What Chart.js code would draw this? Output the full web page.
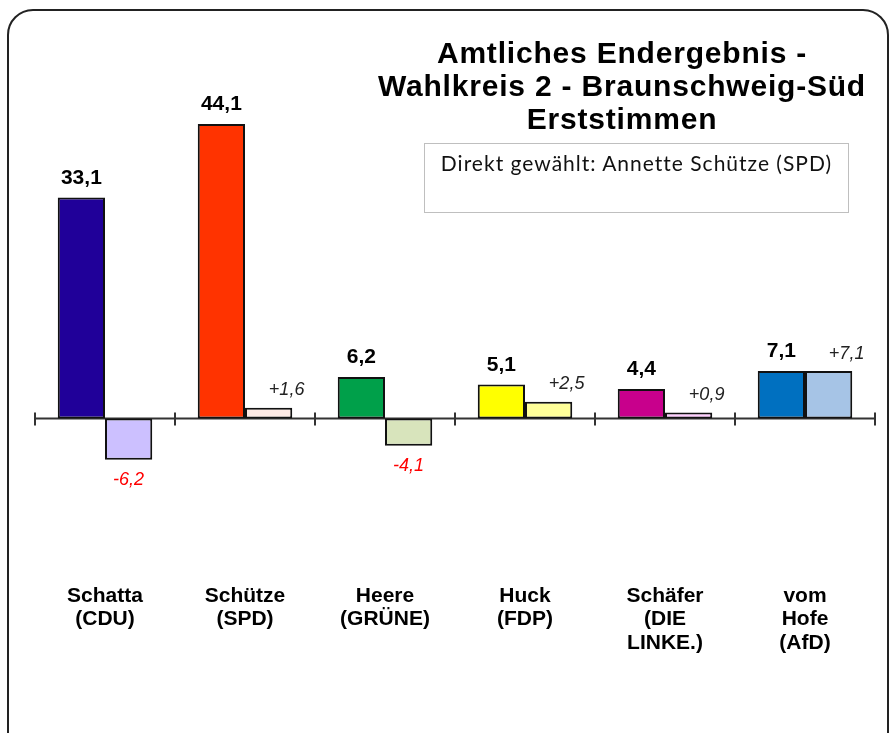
<!DOCTYPE html>
<html lang="de">
<head>
<meta charset="utf-8">
<title>Amtliches Endergebnis - Wahlkreis 2 - Braunschweig-Süd</title>
<script src="https://cdn.jsdelivr.net/npm/chart.js@4.4.1/dist/chart.umd.min.js"></script>
<style>
  html, body { margin: 0; padding: 0; background: #fff; overflow: hidden; }
  #wrap { position: relative; width: 890px; height: 733px; overflow: hidden; }
  #frame {
    position: absolute; left: 7px; top: 9px; width: 882px; height: 760px;
    border: 2px solid #222; border-radius: 26px; box-sizing: border-box;
  }
  #chart { position: absolute; left: 0; top: 0; }
  #title {
    position: absolute; left: 362px; top: 36px; width: 520px;
    font: bold 30px "Liberation Sans", Arial, sans-serif; line-height: 33px;
    letter-spacing: 0.8px; text-align: center; color: #000;
  }
  #note {
    position: absolute; left: 424px; top: 143px; width: 425px; height: 70px;
    border: 1.5px solid #bfbfbf; box-sizing: border-box;
    font: 21px Lato, "Open Sans", sans-serif; line-height: 24px; letter-spacing: 1px;
    color: #111; text-align: center; padding-top: 7px;
  }
</style>
</head>
<body>
<div id="wrap">
  <div id="frame"></div>
  <canvas id="chart" width="890" height="733"></canvas>
  <div id="title">Amtliches Endergebnis -<br>Wahlkreis 2 - Braunschweig-Süd<br>Erststimmen</div>
  <div id="note">Direkt gewählt: Annette Schütze (SPD)</div>
</div>
<script>
// candidates (x axis, multi-line labels)
const candidates = [
  ['Schatta', '(CDU)'],
  ['Schütze', '(SPD)'],
  ['Heere', '(GRÜNE)'],
  ['Huck', '(FDP)'],
  ['Schäfer', '(DIE', 'LINKE.)'],
  ['vom', 'Hofe', '(AfD)']
];
// Erststimmen in %
const results = [33.1, 44.1, 6.2, 5.1, 4.4, 7.1];
// change against previous election, percentage points
const changes = [-6.2, 1.6, -4.1, 2.5, 0.9, 7.1];

const partyColors = ['#200099', '#ff3300', '#00a04a', '#ffff00', '#c8008c', '#0070c0'];
const changeColors = ['#ccc0ff', '#fde9e4', '#d8e4bc', '#ffff99', '#ffccff', '#a6c4e6'];

const fontFamily = '"Liberation Sans", Arial, sans-serif';

function fmt(v, sign) {
  let s = Math.abs(v).toFixed(1).replace('.', ',');
  if (v < 0) return '-' + s;
  return sign ? '+' + s : s;
}

// zero line with tick marks at the category borders
const zeroAxis = {
  id: 'zeroAxis',
  beforeDatasetsDraw(chart) {
    const { ctx, chartArea, scales } = chart;
    const y0 = scales.y.getPixelForValue(0);
    const step = scales.x.getPixelForValue(1) - scales.x.getPixelForValue(0);
    ctx.save();
    ctx.strokeStyle = '#333';
    ctx.lineWidth = 2;
    ctx.beginPath();
    ctx.moveTo(chartArea.left, y0);
    ctx.lineTo(chartArea.right, y0);
    for (let i = 0; i <= candidates.length; i++) {
      const x = Math.round(scales.x.getPixelForValue(i) - step / 2);
      ctx.moveTo(x, y0 - 6);
      ctx.lineTo(x, y0 + 7);
    }
    ctx.stroke();
    ctx.restore();
  }
};

// value labels above / below the bars
const valueLabels = {
  id: 'valueLabels',
  afterDatasetsDraw(chart) {
    const { ctx } = chart;
    ctx.save();
    ctx.textAlign = 'center';
    ctx.textBaseline = 'middle';
    chart.getDatasetMeta(0).data.forEach((bar, i) => {
      ctx.font = 'bold 21px ' + fontFamily;
      ctx.fillStyle = '#000';
      ctx.fillText(fmt(results[i], false), bar.x, bar.y - 19.5);
    });
    chart.getDatasetMeta(1).data.forEach((bar, i) => {
      const v = changes[i];
      ctx.font = 'italic 18px ' + fontFamily;
      if (v < 0) {
        ctx.fillStyle = '#ff0000';
        ctx.fillText(fmt(v, true), bar.x, bar.y + 20);
      } else {
        ctx.fillStyle = '#222';
        ctx.fillText(fmt(v, true), bar.x + 18, bar.y - 17.5);
      }
    });
    ctx.restore();
  }
};

const ctx = document.getElementById('chart').getContext('2d');
const chart = new Chart(ctx, {
  type: 'bar',
  data: {
    labels: candidates,
    datasets: [{
      label: 'Erststimmen 2017',
      data: results,
      backgroundColor: partyColors,
      borderColor: '#111',
      borderWidth: 2,
      borderSkipped: false
    }, {
      label: 'Veränderung',
      data: changes,
      backgroundColor: changeColors,
      borderColor: '#111',
      borderWidth: 2,
      borderSkipped: false
    }]
  },
  options: {
    responsive: false,
    animation: false,
    devicePixelRatio: 1,
    layout: { padding: { left: 35, right: 15, top: 118, bottom: 0 } },
    datasets: { bar: { categoryPercentage: 0.675, barPercentage: 1.0 } },
    plugins: {
      legend: { display: false },
      tooltip: { enabled: false }
    },
    scales: {
      x: {
        grid: { display: false, drawTicks: false },
        border: { display: false },
        ticks: {
          color: '#000',
          padding: 32,
          maxRotation: 0,
          autoSkip: false,
          font: { family: fontFamily, size: 21, weight: 'bold', lineHeight: 1.12 }
        },
        afterFit(scale) { scale.height = 181; }
      },
      y: {
        display: false,
        min: -20,
        max: 45
      }
    }
  },
  plugins: [zeroAxis, valueLabels]
});
</script>
</body>
</html>
